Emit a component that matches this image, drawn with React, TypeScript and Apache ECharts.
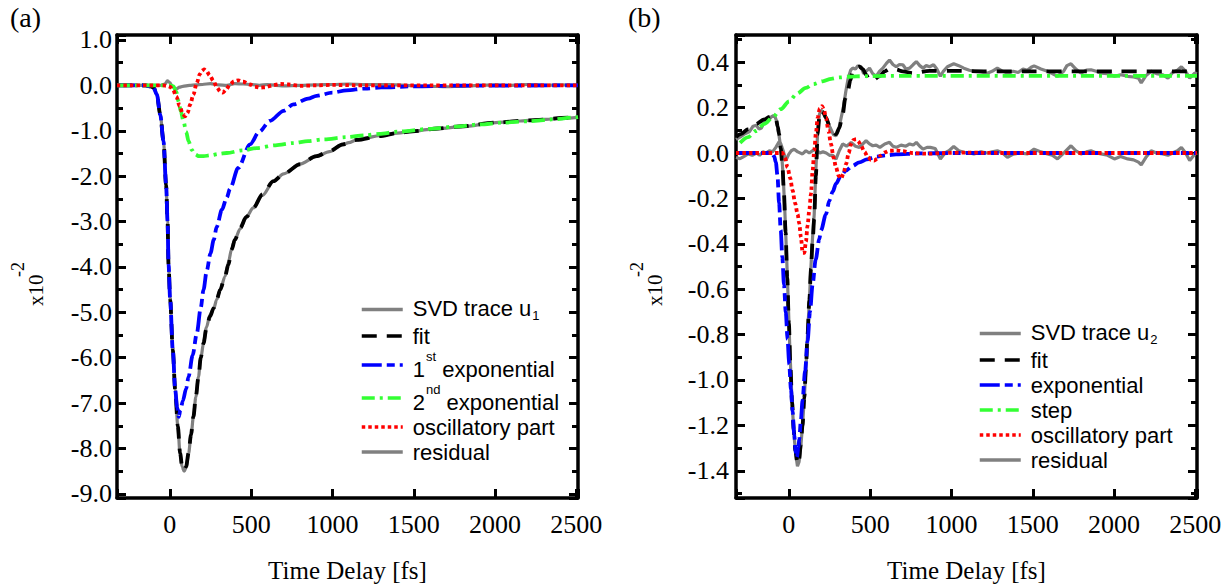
import React, { useEffect, useRef } from 'react';
import * as echarts from 'echarts';

const SERIF = '"Liberation Serif", "Times New Roman", serif';
const SANS = '"Liberation Sans", Arial, sans-serif';

// ---------- axis ranges ----------
const X_MIN = -325;
const X_MAX = 2510;
const A_Y_MIN = -9.09;
const A_Y_MAX = 1.11;
const B_Y_MIN = -1.52;
const B_Y_MAX = 0.52;

// ---------- panel (a) data: [time fs, value x10^-2] ----------
const aSvd = [
  [-325, 0], [-150, 0], [-120, -0.02], [-100, -0.05], [-80, -0.2], [-59, -0.64], [-39, -1.23], [-23, -2.19],
  [-14, -3.0], [-8, -3.95], [2, -4.72], [18, -5.82], [33, -6.71], [49, -7.52], [63, -8.12], [75, -8.4],
  [88, -8.5], [100, -8.42], [115, -8.12], [130, -7.72], [145, -7.3], [160, -6.86], [176, -6.42], [190, -6.02],
  [207, -5.68], [225, -5.33], [247, -5.05], [270, -4.92], [288, -4.72], [310, -4.5], [339, -4.21], [360, -3.9],
  [380, -3.6], [400, -3.4], [432, -3.16], [470, -2.9], [513, -2.7], [570, -2.42], [636, -2.12], [700, -1.95],
  [800, -1.73], [900, -1.57], [982, -1.46], [1063, -1.31], [1100, -1.26], [1150, -1.2], [1200, -1.16],
  [1288, -1.11], [1400, -1.05], [1493, -1.01], [1600, -0.97], [1650, -0.95], [1800, -0.91], [2004, -0.82],
  [2100, -0.8], [2209, -0.77], [2300, -0.75], [2454, -0.72], [2510, -0.7],
];
const aFit = [
  [-325, 0], [-150, 0], [-120, -0.02], [-100, -0.05], [-80, -0.2], [-59, -0.64], [-39, -1.23], [-23, -2.19],
  [-14, -3.0], [-8, -3.95], [2, -4.72], [18, -5.82], [33, -6.71], [49, -7.5], [63, -8.1], [75, -8.38],
  [88, -8.48], [100, -8.4], [115, -8.1], [130, -7.7], [145, -7.3], [160, -6.85], [176, -6.42], [190, -6.0],
  [207, -5.68], [225, -5.35], [247, -5.09], [270, -4.9], [288, -4.72], [310, -4.5], [339, -4.21], [360, -3.95],
  [380, -3.62], [400, -3.4], [432, -3.14], [470, -2.9], [513, -2.7], [570, -2.4], [636, -2.11], [700, -1.95],
  [800, -1.74], [900, -1.56], [982, -1.45], [1063, -1.3], [1150, -1.2], [1288, -1.12], [1400, -1.05],
  [1493, -1.01], [1650, -0.95], [1800, -0.9], [2004, -0.82], [2209, -0.77], [2454, -0.71], [2510, -0.7],
];
const aExp1 = [
  [-325, 0], [-150, 0], [-120, -0.02], [-100, -0.05], [-80, -0.2], [-59, -0.64], [-39, -1.23], [-23, -2.19],
  [-14, -3.0], [-8, -3.95], [2, -4.72], [18, -5.82], [33, -6.71], [45, -7.1], [55, -7.3], [65, -7.15],
  [80, -6.95], [100, -6.68], [115, -6.42], [140, -5.95], [166, -5.46], [190, -4.9], [207, -4.5], [227, -4.08],
  [250, -3.7], [270, -3.4], [288, -3.12], [320, -2.74], [350, -2.47], [370, -2.28], [420, -1.82], [493, -1.3],
  [550, -1.02], [616, -0.78], [700, -0.56], [759, -0.42], [850, -0.29], [902, -0.23], [1000, -0.16],
  [1086, -0.11], [1200, -0.07], [1300, -0.045], [1500, -0.02], [1800, -0.005], [2510, 0],
];
const aExp2 = [
  [-325, 0], [0, 0], [22, -0.02], [40, -0.15], [53, -0.35], [68, -0.58], [84, -0.79], [100, -1.02],
  [115, -1.23], [135, -1.42], [155, -1.52], [180, -1.56], [207, -1.56], [250, -1.54], [300, -1.51],
  [350, -1.49], [450, -1.43], [534, -1.38], [650, -1.32], [759, -1.27], [850, -1.23], [943, -1.19],
  [1086, -1.14], [1200, -1.1], [1288, -1.07], [1400, -1.02], [1595, -0.96], [1750, -0.91], [1902, -0.86],
  [2050, -0.82], [2209, -0.79], [2350, -0.75], [2474, -0.71], [2510, -0.7],
];
const aOsc = [
  [-325, 0], [-40, 0], [-18, -0.01], [0, -0.03], [20, -0.1], [40, -0.25], [60, -0.45], [80, -0.63],
  [94, -0.68], [110, -0.6], [125, -0.42], [145, -0.2], [165, 0.05], [185, 0.25], [200, 0.33], [211, 0.35],
  [225, 0.32], [245, 0.22], [268, 0.1], [290, -0.05], [310, -0.14], [325, -0.16], [345, -0.1], [370, 0.02],
  [395, 0.09], [421, 0.11], [450, 0.08], [493, 0.02], [525, -0.03], [554, -0.05], [590, -0.04], [630, 0],
  [680, 0.03], [730, 0.02], [800, -0.01], [900, 0], [1000, 0.01], [1200, 0], [2510, 0],
];
const aRes = [
  [-325, 0], [-150, 0], [-60, 0], [-30, 0.03], [-15, 0.1], [0, 0.06], [15, -0.03], [40, -0.08], [60, -0.04],
  [80, -0.02], [120, 0], [160, 0.01], [200, 0.02], [250, 0.04], [300, 0.01], [350, 0], [400, 0.04],
  [450, 0.03], [500, 0.02], [550, 0], [600, 0.02], [650, 0], [700, -0.01], [800, 0], [900, 0.01],
  [1000, 0.02], [1100, 0.03], [1200, 0.02], [1300, 0.02], [1400, 0.01], [1500, -0.01], [1600, -0.02],
  [1700, -0.03], [1800, -0.02], [1900, 0], [2000, 0.01], [2100, 0], [2200, 0.02], [2300, 0], [2400, 0.01],
  [2510, 0],
];

// ---------- panel (b) data ----------
const bSvd = [
  [-325, 0.06], [-300, 0.07], [-270, 0.085], [-241, 0.095], [-220, 0.118], [-200, 0.122], [-183, 0.105],
  [-169, 0.11], [-150, 0.138], [-130, 0.14], [-110, 0.158], [-95, 0.165], [-85, 0.16], [-75, 0.14],
  [-65, 0.1], [-55, 0.05], [-45, 0.0], [-35, -0.1], [-25, -0.25], [-15, -0.43], [-5, -0.63], [5, -0.84],
  [15, -1.02], [25, -1.16], [35, -1.27], [45, -1.34], [53, -1.38], [63, -1.36], [74, -1.29], [84, -1.2],
  [95, -1.08], [105, -0.95], [115, -0.8], [126, -0.65], [136, -0.5], [146, -0.37], [156, -0.27],
  [166, -0.08], [177, 0.09], [188, 0.17], [198, 0.19], [215, 0.175], [235, 0.145], [255, 0.11],
  [275, 0.08], [290, 0.076], [305, 0.1], [320, 0.15], [335, 0.2], [350, 0.27], [365, 0.33], [380, 0.365],
  [393, 0.374], [410, 0.37], [425, 0.385], [444, 0.38], [460, 0.35], [475, 0.36], [496, 0.374],
  [515, 0.35], [537, 0.338], [557, 0.36], [578, 0.374], [600, 0.395], [619, 0.41], [640, 0.39],
  [660, 0.38], [680, 0.39], [701, 0.389], [720, 0.37], [743, 0.374], [765, 0.39], [784, 0.403],
  [805, 0.385], [825, 0.374], [845, 0.385], [866, 0.38], [890, 0.389], [910, 0.37], [932, 0.338],
  [950, 0.36], [975, 0.38], [1014, 0.393], [1045, 0.385], [1076, 0.374], [1110, 0.365], [1138, 0.36],
  [1180, 0.357], [1220, 0.352], [1250, 0.36], [1282, 0.374], [1310, 0.362], [1344, 0.352], [1380, 0.36],
  [1410, 0.355], [1440, 0.37], [1467, 0.365], [1490, 0.378], [1508, 0.384], [1550, 0.37], [1591, 0.36],
  [1620, 0.35], [1652, 0.338], [1690, 0.36], [1710, 0.385], [1735, 0.393], [1765, 0.37], [1796, 0.352],
  [1830, 0.365], [1858, 0.367], [1890, 0.36], [1920, 0.352], [1960, 0.35], [2002, 0.338], [2040, 0.345],
  [2084, 0.338], [2120, 0.335], [2150, 0.33], [2167, 0.309], [2195, 0.34], [2228, 0.36], [2260, 0.35],
  [2300, 0.345], [2331, 0.33], [2360, 0.355], [2390, 0.365], [2414, 0.38], [2440, 0.36], [2465, 0.33],
  [2496, 0.352], [2510, 0.35],
];
const bFit = [
  [-325, 0.07], [-296, 0.083], [-250, 0.105], [-204, 0.127], [-150, 0.148], [-121, 0.159], [-100, 0.164],
  [-88, 0.162], [-78, 0.145], [-68, 0.115], [-60, 0.083], [-50, 0.02], [-40, -0.05], [-30, -0.18],
  [-20, -0.35], [-10, -0.55], [0, -0.75], [10, -0.95], [20, -1.1], [30, -1.22], [40, -1.31], [53, -1.37],
  [63, -1.35], [74, -1.28], [84, -1.2], [95, -1.08], [105, -0.95], [115, -0.8], [126, -0.65], [136, -0.51],
  [146, -0.39], [156, -0.29], [166, -0.1], [177, 0.083], [188, 0.16], [198, 0.185], [210, 0.18],
  [228, 0.156], [250, 0.12], [270, 0.097], [290, 0.083], [310, 0.11], [331, 0.17], [347, 0.24],
  [362, 0.272], [378, 0.32], [393, 0.36], [410, 0.375], [434, 0.38], [455, 0.37], [475, 0.345],
  [496, 0.32], [520, 0.322], [557, 0.338], [590, 0.36], [619, 0.37], [660, 0.368], [700, 0.36],
  [763, 0.352], [866, 0.362], [1000, 0.362], [1200, 0.36], [1500, 0.36], [2000, 0.36], [2510, 0.36],
];
const bExp = [
  [-325, 0], [-120, 0], [-100, -0.005], [-90, -0.015], [-80, -0.04], [-70, -0.1], [-60, -0.22], [-50, -0.34],
  [-40, -0.46], [-30, -0.58], [-19, -0.7], [-8, -0.82], [2, -0.93], [13, -1.04], [23, -1.14], [33, -1.24],
  [43, -1.32], [50, -1.34], [58, -1.3], [64, -1.26], [74, -1.18], [84, -1.09], [100, -0.96], [115, -0.83],
  [130, -0.7], [146, -0.58], [165, -0.47], [187, -0.38], [198, -0.34], [228, -0.27], [249, -0.21],
  [270, -0.17], [290, -0.135], [320, -0.1], [352, -0.077], [390, -0.057], [434, -0.041], [480, -0.028],
  [537, -0.016], [600, -0.01], [660, -0.006], [800, -0.002], [1000, 0], [2510, 0],
];
const bStep = [
  [-300, 0.045], [-250, 0.07], [-204, 0.097], [-150, 0.128], [-101, 0.156], [-50, 0.193], [2, 0.228],
  [50, 0.262], [105, 0.287], [150, 0.303], [208, 0.316], [260, 0.327], [311, 0.333], [360, 0.336],
  [414, 0.338], [500, 0.339], [700, 0.34], [2510, 0.34],
];
const bOsc = [
  [-325, 0], [-50, 0], [-39, 0], [-25, -0.02], [-8, -0.063], [8, -0.11], [23, -0.165], [38, -0.22],
  [54, -0.27], [64, -0.31], [74, -0.37], [85, -0.44], [95, -0.44], [105, -0.39], [115, -0.32], [126, -0.25],
  [136, -0.18], [146, -0.08], [156, 0.01], [167, 0.09], [177, 0.156], [190, 0.195], [204, 0.207],
  [216, 0.19], [228, 0.156], [243, 0.1], [259, 0.04], [275, -0.02], [290, -0.063], [306, -0.1],
  [321, -0.113], [336, -0.09], [352, -0.048], [368, 0], [383, 0.04], [398, 0.058], [414, 0.061],
  [429, 0.05], [444, 0.032], [465, 0.005], [486, -0.019], [505, -0.03], [525, -0.033], [545, -0.025],
  [565, -0.01], [590, 0.003], [620, 0.01], [660, 0.012], [700, 0.008], [760, 0], [850, -0.003], [950, 0],
  [1100, 0.002], [1300, 0], [2510, 0],
];
const bRes = [
  [-325, -0.02], [-300, -0.025], [-275, -0.015], [-250, -0.004], [-225, -0.01], [-200, 0], [-180, -0.01],
  [-160, 0.005], [-140, 0], [-120, 0.01], [-100, 0.005], [-80, 0.025], [-60, 0.05], [-49, 0.04],
  [-35, 0.01], [-19, -0.033], [0, -0.005], [15, 0.01], [33, 0.017], [55, 0.005], [84, -0.004], [105, 0.01],
  [126, 0], [145, 0.01], [167, 0.017], [190, 0], [210, 0.005], [230, 0], [250, -0.01], [270, -0.01],
  [290, -0.027], [310, 0.01], [331, 0.04], [355, 0.03], [383, 0.047], [410, 0.03], [434, 0.025],
  [455, 0.04], [475, 0.054], [496, 0.04], [516, 0.032], [537, 0.035], [560, 0.025], [590, 0.04],
  [619, 0.047], [640, 0.03], [660, 0.025], [690, 0.035], [720, 0.03], [743, 0.04], [765, 0.035],
  [784, 0.047], [805, 0.03], [825, 0.017], [850, 0.025], [870, 0.025], [900, 0.02], [932, -0.026],
  [960, 0], [985, 0.01], [1014, 0.029], [1045, 0.01], [1076, 0.003], [1110, 0], [1138, -0.004],
  [1180, 0.005], [1220, 0], [1250, 0.005], [1282, 0.01], [1315, 0], [1344, -0.019], [1380, -0.005],
  [1420, 0], [1467, -0.004], [1508, 0.017], [1550, 0.005], [1591, -0.004], [1620, -0.01], [1652, -0.026],
  [1690, 0], [1735, 0.032], [1765, 0.01], [1796, -0.004], [1830, 0.005], [1858, 0.01], [1890, 0],
  [1920, -0.004], [1960, -0.01], [2002, -0.026], [2040, -0.015], [2084, -0.026], [2120, -0.03],
  [2150, -0.04], [2167, -0.052], [2195, -0.02], [2228, 0.01], [2260, 0], [2300, -0.004], [2331, -0.01],
  [2360, 0], [2390, 0.01], [2414, 0.025], [2440, 0], [2465, -0.033], [2496, -0.005], [2510, 0],
];

// ---------- legend labels ----------
const LEGEND_A = ['a_svd', 'a_fit', 'a_exp1', 'a_exp2', 'a_osc', 'a_res'];
const LEGEND_B = ['b_svd', 'b_fit', 'b_exp', 'b_step', 'b_osc', 'b_res'];
const LEGEND_TEXT: Record<string, string> = {
  a_svd: '{ts|SVD trace u}{sub|1}',
  a_fit: '{p|fit}',
  a_exp1: '{tb|1}{sup|st}{tb| exponential}',
  a_exp2: '{tb|2}{sup|nd}{tb| exponential}',
  a_osc: '{p|oscillatory part}',
  a_res: '{p|residual}',
  b_svd: '{ts|SVD trace u}{sub|2}',
  b_fit: '{p|fit}',
  b_exp: '{p|exponential}',
  b_step: '{p|step}',
  b_osc: '{p|oscillatory part}',
  b_res: '{p|residual}',
};
const Y_NAME_MAIN = 'x10';
const Y_NAME_EXP = '-2';
const X_NAME = 'Time Delay [fs]';

const GRAY = '#808080';
const BLACK = '#000000';
const BLUE = '#0000ff';
const GREEN = '#33ff33';
const RED = '#ff0000';

const DASH_FIT = [15, 10];
const DASH_EXP = [20, 5, 8, 5];
const DASH_GREEN = [13, 5, 3, 5];
const DASH_DOT = [3.5, 3];

function isMultiple(v: number, step: number) {
  const r = v / step;
  return Math.abs(r - Math.round(r)) < 1e-6;
}

function xAxes(grid: number) {
  const common = {
    gridIndex: grid,
    type: 'value',
    min: X_MIN,
    max: X_MAX,
    splitNumber: 6,
    splitLine: { show: false },
    axisLine: { show: true, onZero: false, lineStyle: { color: '#000', width: 3.5 } },
    axisTick: { show: true, inside: true, length: 9, lineStyle: { color: '#000', width: 3 } },
  };
  return [
    {
      ...common,
      position: 'bottom',
      axisLabel: {
        show: true,
        margin: 13,
        fontSize: 26,
        fontFamily: SERIF,
        color: '#000',
        formatter: (v: number) => (isMultiple(v, 500) ? String(Math.round(v)) : ''),
      },
      name: X_NAME,
      nameLocation: 'middle',
      nameGap: 60,
      nameTextStyle: { fontSize: 25, fontFamily: SERIF, color: '#000' },
    },
    { ...common, position: 'top', axisLabel: { show: false } },
  ];
}

function yAxes(grid: number, min: number, max: number, step: number, labelMargin: number) {
  const common = {
    gridIndex: grid,
    type: 'value',
    min,
    max,
    splitNumber: 10,
    splitLine: { show: false },
    axisLine: { show: true, onZero: false, lineStyle: { color: '#000', width: 3.5 } },
    axisTick: { show: true, inside: true, length: 9, lineStyle: { color: '#000', width: 3 } },
    minorTick: { show: true, splitNumber: 2, length: 6, lineStyle: { color: '#000', width: 3 } },
    minorSplitLine: { show: false },
  };
  return [
    {
      ...common,
      position: 'left',
      axisLabel: {
        show: true,
        margin: labelMargin,
        fontSize: 26,
        fontFamily: SERIF,
        color: '#000',
        formatter: (v: number) => (isMultiple(v, step) ? v.toFixed(1) : ''),
      },
    },
    { ...common, position: 'right', axisLabel: { show: false } },
  ];
}

function line(name: string, data: number[][], xi: number, yi: number, color: string, width: number, type: any, z: number, smooth: number | boolean) {
  return {
    name,
    type: 'line',
    data,
    xAxisIndex: xi,
    yAxisIndex: yi,
    symbol: 'none',
    showSymbol: false,
    smooth,
    smoothMonotone: 'x',
    lineStyle: { color, width, type, cap: 'butt' },
    itemStyle: { color },
    z,
    silent: true,
    emphasis: { disabled: true },
  };
}

const RICH = {
  p: { fontSize: 22, lineHeight: 22, fontFamily: SANS, color: '#000', verticalAlign: 'middle' },
  ts: { fontSize: 22, lineHeight: 22, fontFamily: SANS, color: '#000', verticalAlign: 'top' },
  tb: { fontSize: 22, lineHeight: 22, fontFamily: SANS, color: '#000', verticalAlign: 'bottom' },
  sub: { fontSize: 13, lineHeight: 25, fontFamily: SANS, color: '#000', verticalAlign: 'bottom', padding: [0, 0, 0, 1] },
  sup: { fontSize: 13, lineHeight: 30, fontFamily: SANS, color: '#000', verticalAlign: 'top', padding: [0, 0, 0, 1] },
};

function legend(data: string[], left: number, top: number) {
  return {
    data,
    orient: 'vertical',
    left,
    top,
    padding: 0,
    itemGap: 3,
    itemWidth: 41,
    itemHeight: 2,
    selectedMode: false,
    formatter: (n: string) => LEGEND_TEXT[n] || n,
    itemStyle: { opacity: 0, borderWidth: 0 },
    lineStyle: { width: 3.5 },
    textStyle: { fontSize: 22, fontFamily: SANS, color: '#000', padding: [0, 0, 0, 5], rich: RICH },
  };
}

function yName(baseX: number) {
  return [
    {
      type: 'text',
      x: baseX - 3,
      y: 306,
      rotation: Math.PI / 2,
      silent: true,
      style: { text: Y_NAME_MAIN, fontSize: 21, fontFamily: SERIF, fill: '#000', align: 'left', verticalAlign: 'bottom' },
    },
    {
      type: 'text',
      x: baseX - 22,
      y: 277,
      rotation: Math.PI / 2,
      silent: true,
      style: { text: Y_NAME_EXP, fontSize: 18, fontFamily: SERIF, fill: '#000', align: 'left', verticalAlign: 'bottom' },
    },
  ];
}

const option = {
  animation: false,
  backgroundColor: '#ffffff',
  grid: [
    { left: 117, top: 35, width: 461, height: 463, outerBoundsMode: 'none', containLabel: false },
    { left: 736, top: 35, width: 461, height: 463, outerBoundsMode: 'none', containLabel: false },
  ],
  xAxis: [...xAxes(0), ...xAxes(1)],
  yAxis: [...yAxes(0, A_Y_MIN, A_Y_MAX, 1, 5), ...yAxes(1, B_Y_MIN, B_Y_MAX, 0.2, 7)],
  legend: [legend(LEGEND_A, 360, 297), legend(LEGEND_B, 978, 321)],
  graphic: [
    { type: 'text', left: 10, top: 3, style: { text: '(a)', fontSize: 28, fontFamily: SERIF, fill: '#000' } },
    { type: 'text', left: 628, top: 3, style: { text: '(b)', fontSize: 28, fontFamily: SERIF, fill: '#000' } },
    ...yName(49),
    ...yName(668),
  ],
  series: [
    line('a_svd', aSvd, 0, 0, GRAY, 3.2, 'solid', 2, 0.3),
    line('a_res', aRes, 0, 0, GRAY, 3.2, 'solid', 2, 0.3),
    line('a_fit', aFit, 0, 0, BLACK, 3.8, DASH_FIT, 3, 0.3),
    line('a_exp1', aExp1, 0, 0, BLUE, 3.8, DASH_EXP, 4, 0.3),
    line('a_exp2', aExp2, 0, 0, GREEN, 3.8, DASH_GREEN, 5, 0.3),
    line('a_osc', aOsc, 0, 0, RED, 3.8, DASH_DOT, 6, 0.3),
    line('b_svd', bSvd, 2, 2, GRAY, 3.2, 'solid', 2, false),
    line('b_res', bRes, 2, 2, GRAY, 3.2, 'solid', 2, false),
    line('b_fit', bFit, 2, 2, BLACK, 3.8, DASH_FIT, 3, 0.3),
    line('b_exp', bExp, 2, 2, BLUE, 3.8, DASH_EXP, 4, 0.3),
    line('b_step', bStep, 2, 2, GREEN, 3.8, DASH_GREEN, 5, 0.3),
    line('b_osc', bOsc, 2, 2, RED, 3.8, DASH_DOT, 6, 0.3),
  ],
};

export default function App() {
  const ref = useRef<HTMLDivElement>(null);
  useEffect(() => {
    if (!ref.current) return;
    const chart = echarts.init(ref.current, null, { renderer: 'svg' });
    chart.setOption(option as any);
    return () => {
      chart.dispose();
    };
  }, []);
  return (
    <div
      ref={ref}
      style={{ position: 'fixed', left: 0, top: 0, width: 1232, height: 588, background: '#fff' }}
    />
  );
}
